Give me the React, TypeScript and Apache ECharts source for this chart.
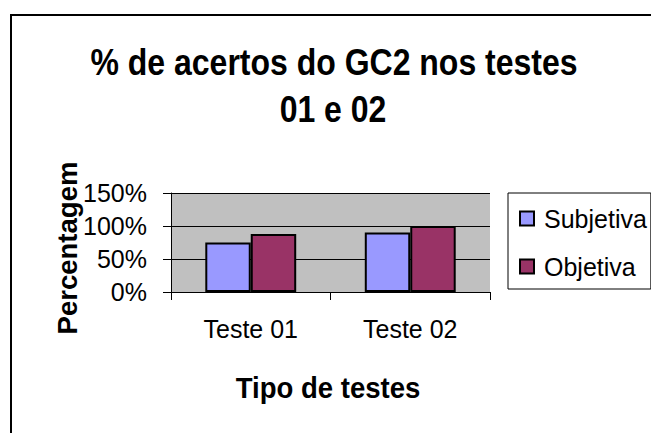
import React, { useEffect, useRef } from "react";
import * as echarts from "echarts";

const categories = ["Teste 01", "Teste 02"];
const subjetiva = [75, 90];
const objetiva = [88, 100];
const seriesNames = ["Subjetiva", "Objetiva"];
const titleLines = ["% de acertos do GC2 nos testes", "01 e 02"];
const xAxisName = "Tipo de testes";
const yAxisName = "Percentagem";

const FONT = "'Liberation Sans', Arial, sans-serif";

export default function App() {
  const ref = useRef<HTMLDivElement>(null);
  useEffect(() => {
    if (!ref.current) return;
    const chart = echarts.init(ref.current, null, { renderer: "svg" });
    const boldText = (text: string, size: number) => ({
      text,
      fontSize: size,
      fontWeight: "bold",
      fontFamily: FONT,
      fill: "#000",
      align: "center",
      verticalAlign: "middle",
    });
    chart.setOption({
      animation: false,
      backgroundColor: "#ffffff",
      textStyle: { fontFamily: FONT },
      grid: {
        left: 171,
        right: 161,
        top: 193,
        bottom: 141,
        show: true,
        backgroundColor: "#C0C0C0",
        borderWidth: 0,
      },
      graphic: [
        {
          type: "rect",
          shape: { x: 11, y: 15, width: 700, height: 500 },
          style: { fill: "none", stroke: "#000", lineWidth: 2 },
          silent: true,
        },
        { type: "text", x: 334, y: 62, scaleY: 1.13, style: boldText(titleLines[0], 32) },
        { type: "text", x: 333, y: 109, scaleY: 1.13, style: boldText(titleLines[1], 32) },
        { type: "text", x: 328, y: 388, scaleY: 1.12, scaleX: 1.02, style: boldText(xAxisName, 27) },
        {
          type: "text",
          x: 68,
          y: 248,
          rotation: Math.PI / 2,
          scaleX: 1.02,
          style: boldText(yAxisName, 27),
        },
      ],
      legend: {
        orient: "vertical",
        left: 508,
        top: 193,
        data: seriesNames,
        icon: "rect",
        itemWidth: 14,
        itemHeight: 14,
        itemGap: 23,
        padding: [13, 4, 10, 11],
        borderColor: "#000",
        borderWidth: 1,
        backgroundColor: "#fff",
        textStyle: { fontSize: 25, color: "#000", fontFamily: FONT, padding: [0, 0, 0, 5] },
      },
      xAxis: {
        type: "category",
        data: categories,
        axisLine: { show: true, lineStyle: { color: "#000", width: 1 } },
        axisTick: { show: true, length: 8, lineStyle: { color: "#000" } },
        axisLabel: { fontSize: 25, color: "#000", margin: 24, fontFamily: FONT },
        splitLine: { show: false },
      },
      yAxis: {
        type: "value",
        min: 0,
        max: 150,
        interval: 50,
        axisLine: { show: true, lineStyle: { color: "#000", width: 1 } },
        axisTick: { show: true, length: 8, lineStyle: { color: "#000" } },
        axisLabel: {
          fontSize: 25,
          color: "#000",
          margin: 24,
          fontFamily: FONT,
          formatter: "{value}%",
        },
        splitLine: { show: true, lineStyle: { color: "#000", width: 1 } },
      },
      series: [
        {
          name: seriesNames[0],
          type: "bar",
          data: subjetiva,
          barGap: "0%",
          barCategoryGap: "43%",
          itemStyle: { color: "#9999FF", borderColor: "#000", borderWidth: 2 },
        },
        {
          name: seriesNames[1],
          type: "bar",
          data: objetiva,
          barGap: "0%",
          barCategoryGap: "43%",
          itemStyle: { color: "#993366", borderColor: "#000", borderWidth: 2 },
        },
      ],
    });
    return () => chart.dispose();
  }, []);
  return (
    <div
      ref={ref}
      style={{ position: "fixed", left: 0, top: 0, width: 651, height: 433 }}
    />
  );
}
